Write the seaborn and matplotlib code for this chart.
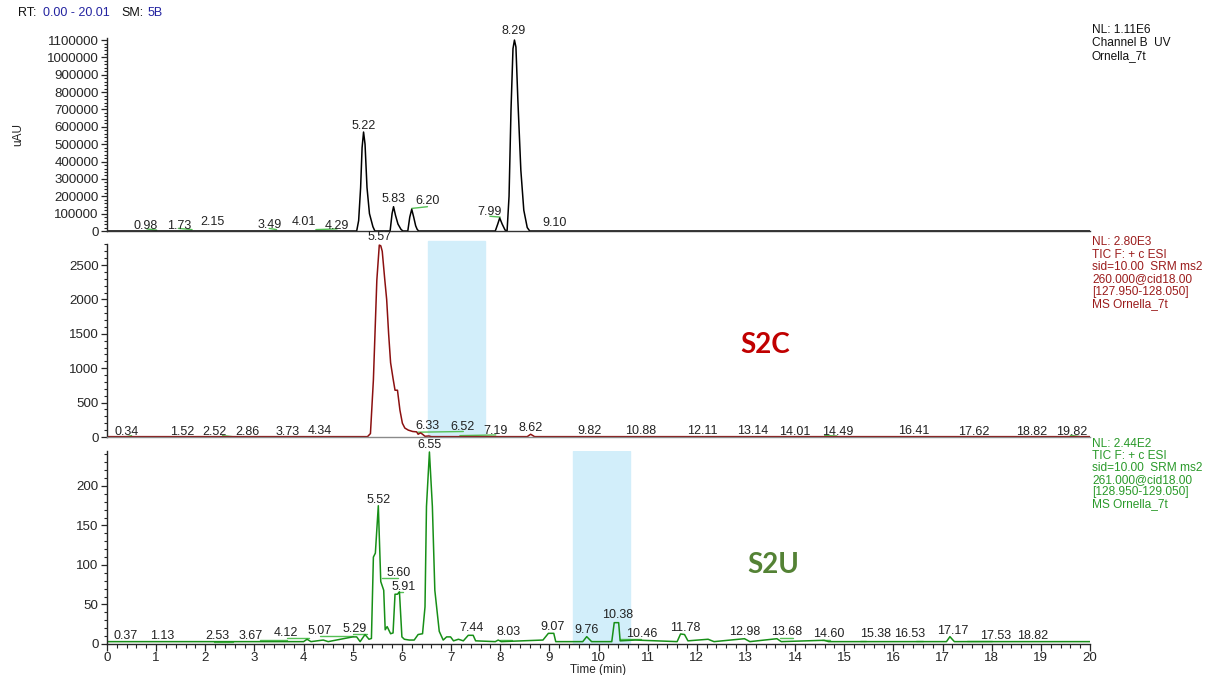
import matplotlib
matplotlib.use("Agg")
import matplotlib.pyplot as plt
from matplotlib.ticker import MultipleLocator
import pandas as pd
import seaborn as sns

# ---- Channel B UV trace ----
uv_time = [0.0, 5.08, 5.12, 5.16, 5.19, 5.22, 5.25, 5.29, 5.34, 5.41, 5.45,
           5.76, 5.80, 5.83, 5.87, 5.92, 5.98, 6.02,
           6.12, 6.16, 6.20, 6.24, 6.28, 6.31, 6.34,
           7.90, 7.95, 7.99, 8.04, 8.10, 8.14,
           8.18, 8.22, 8.26, 8.29, 8.32, 8.36, 8.42, 8.48, 8.55, 8.60, 20.0]
uv_signal = [0, 0, 60000, 250000, 480000, 570000, 500000, 250000, 100000, 25000, 0,
             0, 100000, 140000, 90000, 40000, 10000, 0,
             0, 80000, 125000, 80000, 30000, 10000, 0,
             0, 40000, 75000, 40000, 5000, 0,
             200000, 700000, 1050000, 1100000, 1060000, 750000, 350000, 120000, 20000, 0, 0]
uv_labels = ["0.98", "1.73", "2.15", "3.49", "4.01", "4.29", "5.22", "5.83", "6.20", "7.99", "8.29", "9.10"]
uv_label_x = [0.79, 1.46, 2.14, 3.30, 4.01, 4.67, 5.22, 5.83, 6.52, 7.79, 8.28, 9.11]
uv_label_y = [30500, 30500, 53600, 34600, 53600, 30500, 606600, 182600, 172800, 107700, 1152100, 44400]
uv_base_x0 = [0.81, 1.45, 3.30, 4.25, 6.20, 7.79]
uv_base_x1 = [1.01, 1.73, 3.45, 4.68, 6.52, 8.00]
uv_base_y0 = [12000, 15000, 15000, 8000, 130000, 85000]
uv_base_y1 = [5000, 8000, 8000, 12000, 140000, 80000]

# ---- S2C trace (m/z 260 -> 128) ----
s2c_time = [0.0, 5.30, 5.36, 5.42, 5.49, 5.54, 5.57, 5.60, 5.65, 5.69, 5.73, 5.77, 5.82,
            5.86, 5.91, 5.96, 6.01, 6.06, 6.13, 6.22, 6.30, 6.33, 6.38, 6.42, 6.47,
            6.55, 6.60, 8.55, 8.62, 8.70, 20.0]
s2c_signal = [5, 5, 50, 830, 2280, 2790, 2780, 2700, 2300, 2000, 1500, 1080, 850,
              680, 680, 390, 200, 130, 100, 80, 75, 40, 60, 40, 10,
              15, 5, 5, 40, 5, 5]
s2c_labels = ["0.34", "1.52", "2.52", "2.86", "3.73", "4.34", "5.57", "6.33", "6.52", "7.19",
              "8.62", "9.82", "10.88", "12.11", "13.14", "14.01", "14.49", "16.41", "17.62",
              "18.82", "19.82"]
s2c_label_x = [0.40, 1.52, 2.18, 2.85, 3.67, 4.33, 5.55, 6.52, 7.23, 7.91,
               8.61, 9.82, 10.86, 12.11, 13.14, 14.00, 14.86, 16.41, 17.63, 18.81, 19.63]
s2c_label_y = [77, 77, 77, 77, 77, 92, 2903, 160, 150, 92,
               126, 92, 92, 92, 92, 77, 77, 92, 77, 77, 77]
s2c_base_x0 = [0.40, 2.35, 6.33, 7.18, 14.60, 19.60]
s2c_base_x1 = [0.50, 2.55, 7.25, 7.91, 14.85, 19.80]
s2c_base_y0 = [5, 20, 70, 20, 20, 25]
s2c_base_y1 = [20, 5, 80, 30, 15, 5]

# ---- S2U trace (m/z 261 -> 129) ----
s2u_time = [0.0, 4.00, 4.07, 4.15, 4.40, 4.50, 5.00, 5.08, 5.15, 5.25, 5.33, 5.38,
            5.42, 5.46, 5.52, 5.57, 5.63, 5.66, 5.70, 5.77, 5.82, 5.86, 5.91, 5.95, 6.00,
            6.05, 6.15, 6.25, 6.33, 6.42, 6.47, 6.50, 6.56, 6.62, 6.67, 6.72, 6.76,
            6.84, 6.91, 6.99, 7.05, 7.15, 7.25, 7.35, 7.45, 7.50,
            7.90, 7.96, 8.02, 8.87, 8.98, 9.09, 9.13, 9.68, 9.76, 9.86,
            10.27, 10.32, 10.41, 10.44, 10.75, 11.60, 11.67, 11.75, 11.82,
            12.23, 12.35, 12.97, 13.08, 13.63, 13.72, 14.59, 14.68, 17.08, 17.15, 17.24, 20.0]
s2u_signal = [3, 3, 6, 3, 5, 3, 9, 9, 3, 12, 6, 7,
              110, 115, 175, 79, 68, 18, 22, 13, 14, 63, 63, 66, 9,
              6, 5, 5, 12, 13, 47, 174, 243, 174, 68, 39, 16,
              5, 9, 9, 4, 6, 4, 11, 11, 4,
              3, 5, 3, 5, 13.5, 13.5, 3, 3, 9.3, 3,
              3, 27, 27, 4, 5, 3, 12.7, 12, 4,
              6, 3, 6.7, 3, 6.7, 3, 4.7, 3, 3, 9.3, 3, 3]
s2u_labels = ["0.37", "1.13", "2.53", "3.67", "4.12", "5.07", "5.29", "5.52", "5.60", "5.91",
              "6.55", "7.44", "8.03", "9.07", "9.76", "10.38", "10.46", "11.78", "12.98",
              "13.68", "14.60", "15.38", "16.53", "17.17", "17.53", "18.82"]
s2u_label_x = [0.37, 1.13, 2.25, 2.93, 3.64, 4.33, 5.03, 5.52, 5.93, 6.04,
               6.56, 7.41, 8.17, 9.07, 9.76, 10.38, 10.87, 11.77, 12.98,
               13.82, 14.68, 15.63, 16.33, 17.20, 18.07, 18.84]
s2u_label_y = [10.5, 10.5, 10, 10, 13.5, 16.5, 19.4, 182, 89.5, 72.5,
               252, 19.9, 14.8, 22, 17.7, 36.7, 12.7, 19.9, 14.8,
               14.8, 12.7, 12.7, 12.7, 16.9, 10.5, 10.5]
s2u_base_x0 = [2.17, 3.11, 3.66, 4.33, 5.00, 5.59, 5.92, 8.00, 10.44, 13.70, 14.55, 15.33, 16.45, 17.50]
s2u_base_x1 = [2.57, 3.66, 4.10, 5.01, 5.28, 5.93, 6.02, 8.25, 10.86, 13.95, 14.70, 15.45, 16.60, 18.00]
s2u_base_y0 = [3, 5, 7, 10, 13, 84, 66, 5, 6, 8, 5, 4, 4, 4]
s2u_base_y1 = [3, 5, 7, 10, 13, 84, 66, 5, 6, 8, 5, 4, 4, 4]

# highlighted retention windows
s2c_window = (6.53, 7.69)
s2u_window = (9.48, 10.64)

uv_info = ["NL: 1.11E6", "Channel B  UV", "Ornella_7t"]
s2c_info = ["NL: 2.80E3", "TIC F: + c ESI", "sid=10.00  SRM ms2", "260.000@cid18.00",
            "[127.950-128.050]", "MS Ornella_7t"]
s2u_info = ["NL: 2.44E2", "TIC F: + c ESI", "sid=10.00  SRM ms2", "261.000@cid18.00",
            "[128.950-129.050]", "MS Ornella_7t"]

sns.set_style("ticks")
plt.rcParams["font.family"] = ["Liberation Sans", "DejaVu Sans"]
plt.rcParams["axes.linewidth"] = 1.0

W, H = 1214, 675
fig = plt.figure(figsize=(W / 100, H / 100), dpi=100)


def px_axes(top, bottom):
    left, right = 107, 1090
    return fig.add_axes([left / W, 1 - bottom / H, (right - left) / W, (bottom - top) / H])


ax1 = px_axes(38.3, 231)
ax2 = px_axes(244.4, 437)
ax3 = px_axes(451.2, 644)

green_base = "#55c055"
panels = [
    (ax1, uv_time, uv_signal, "black", 1.11e6, uv_labels, uv_label_x, uv_label_y,
     (uv_base_x0, uv_base_x1, uv_base_y0, uv_base_y1)),
    (ax2, s2c_time, s2c_signal, "#8b1010", 2800, s2c_labels, s2c_label_x, s2c_label_y,
     (s2c_base_x0, s2c_base_x1, s2c_base_y0, s2c_base_y1)),
    (ax3, s2u_time, s2u_signal, "#178f17", 244, s2u_labels, s2u_label_x, s2u_label_y,
     (s2u_base_x0, s2u_base_x1, s2u_base_y0, s2u_base_y1)),
]

ax2.axvspan(*s2c_window, ymin=0, ymax=1.02, color="#d2eefa", zorder=0, clip_on=False)
ax3.axvspan(*s2u_window, ymin=0, ymax=1.0, color="#d2eefa", zorder=0)

for ax, t, s, col, ytop, labs, lx, ly, base in panels:
    df = pd.DataFrame({"time": t, "signal": s})
    sns.lineplot(data=df, x="time", y="signal", ax=ax, color=col, linewidth=1.1,
                 estimator=None, sort=False)
    for x0, x1, y0, y1 in zip(*base):
        ax.plot([x0, x1], [y0, y1], color=green_base, linewidth=1.0, zorder=1)
    for txt, x, y in zip(labs, lx, ly):
        ax.text(x, y, txt, ha="center", va="center", fontsize=9, color="#222222",
                clip_on=False, zorder=5)
    ax.set_xlim(0, 20)
    ax.set_ylim(0, ytop)
    ax.set_xlabel("")
    ax.set_ylabel("")
    ax.spines["top"].set_visible(False)
    ax.spines["right"].set_visible(False)
    ax.tick_params(axis="y", which="major", length=4, width=0.9, labelsize=9.6, pad=2)
    ax.tick_params(axis="y", which="minor", length=2.2, width=0.8)
    ax.set_facecolor("none")

for ax in (ax1, ax2):
    ax.tick_params(axis="x", which="both", bottom=False, labelbottom=False)
ax1.spines["bottom"].set_color("#333333")
ax2.spines["bottom"].set_color("#8a8a8a")

ax1.yaxis.set_major_locator(MultipleLocator(100000))
ax1.yaxis.set_minor_locator(MultipleLocator(20000))
ax1.ticklabel_format(style="plain", axis="y", useOffset=False)
ax1.set_ylim(0, 1.11e6)

ax2.yaxis.set_major_locator(MultipleLocator(500))
ax2.yaxis.set_minor_locator(MultipleLocator(100))
ax2.set_ylim(0, 2800)

ax3.yaxis.set_major_locator(MultipleLocator(50))
ax3.yaxis.set_minor_locator(MultipleLocator(10))
ax3.set_ylim(0, 244)
ax3.xaxis.set_major_locator(MultipleLocator(1))
ax3.xaxis.set_minor_locator(MultipleLocator(0.2))
ax3.tick_params(axis="x", which="major", length=5, width=0.9, labelsize=9.6, pad=1)
ax3.tick_params(axis="x", which="minor", length=3, width=0.8)
ax3.set_xlabel("Time (min)", fontsize=8.5, labelpad=0)

# sample names
ax2.text(13.39, 1337, "S2C", fontsize=20, fontweight="bold", color="#c00000",
         ha="center", va="center", family=["Lato", "DejaVu Sans"])
ax3.text(13.55, 100, "S2U", fontsize=20, fontweight="bold", color="#548235",
         ha="center", va="center", family=["Lato", "DejaVu Sans"])

# trace headers on the right
x_info = 1092 / W
for lines, ys, col in [(uv_info, [30, 43, 56], "#111111"),
                       (s2c_info, [242, 254.5, 267, 279.5, 292, 304.5], "#9b1c1c"),
                       (s2u_info, [444, 456, 468, 480, 492, 504], "#2a9a2a")]:
    for txt, y in zip(lines, ys):
        fig.text(x_info, 1 - y / H, txt, fontsize=8.6, color=col, ha="left", va="center")

# top header
hy = 1 - 13 / H
fig.text(18 / W, hy, "RT:", fontsize=9, color="#111111", va="center")
fig.text(43 / W, hy, "0.00 - 20.01", fontsize=9, color="#2323a0", va="center")
fig.text(121 / W, hy, "SM:", fontsize=9, color="#111111", va="center")
fig.text(148 / W, hy, "5B", fontsize=9, color="#2323a0", va="center")
fig.text(18 / W, 1 - 135 / H, "uAU", fontsize=8.5, rotation=90, ha="center", va="center")

fig.savefig("out.png", dpi=100, facecolor="white")
plt.close(fig)
